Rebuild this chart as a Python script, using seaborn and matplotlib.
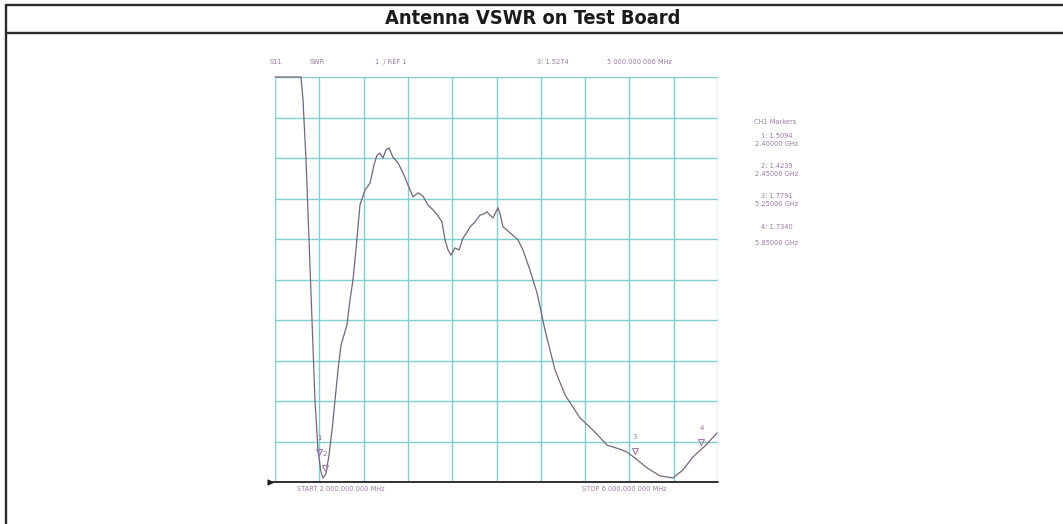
import numpy as np
import pandas as pd
import matplotlib
matplotlib.use("Agg")
import matplotlib.pyplot as plt
from matplotlib.lines import Line2D
import seaborn as sns

# ---- data ----
freq_ghz = [2.000, 2.235, 2.253, 2.280, 2.307, 2.334, 2.361, 2.388, 2.415, 2.433,
            2.460, 2.488, 2.515, 2.542, 2.569, 2.596, 2.623, 2.650, 2.677, 2.704,
            2.731, 2.767, 2.813, 2.858, 2.894, 2.921, 2.948, 2.975, 3.002, 3.029,
            3.065, 3.111, 3.156, 3.201, 3.246, 3.291, 3.336, 3.381, 3.427, 3.472,
            3.508, 3.535, 3.562, 3.589, 3.625, 3.661, 3.697, 3.734, 3.761, 3.806,
            3.851, 3.887, 3.914, 3.941, 3.968, 3.995, 4.014, 4.032, 4.059, 4.095,
            4.122, 4.158, 4.194, 4.239, 4.302, 4.366, 4.438, 4.528, 4.619, 4.754,
            4.890, 4.998, 5.115, 5.178, 5.251, 5.359, 5.477, 5.594, 5.684, 5.774,
            5.883, 5.991]
swr = [11.00, 11.00, 10.43, 8.95, 6.98, 5.00, 3.02, 1.79, 1.25, 1.10,
       1.20, 1.67, 2.28, 3.02, 3.77, 4.38, 4.63, 4.88, 5.49, 5.99,
       6.73, 7.84, 8.21, 8.38, 8.83, 9.07, 9.12, 9.00, 9.20, 9.25,
       9.02, 8.88, 8.63, 8.33, 8.04, 8.14, 8.06, 7.84, 7.72, 7.57,
       7.42, 6.98, 6.73, 6.60, 6.78, 6.73, 7.02, 7.17, 7.30, 7.42,
       7.59, 7.62, 7.67, 7.59, 7.52, 7.67, 7.77, 7.62, 7.30, 7.22,
       7.15, 7.07, 6.98, 6.73, 6.23, 5.67, 4.75, 3.77, 3.15, 2.58,
       2.23, 1.91, 1.81, 1.74, 1.59, 1.35, 1.15, 1.10, 1.30, 1.62,
       1.89, 2.21]

marker_ids = ["1", "2", "3", "4"]
marker_freq = [2.40, 2.45, 5.25, 5.85]
marker_swr_text = ["1.5094", "1.4239", "1.7791", "1.7340"]
marker_freq_text = ["2.40000 GHz", "2.45000 GHz", "5.25000 GHz", "5.85000 GHz"]

title = "Antenna VSWR on Test Board"
header_items = ["S11", "SWR", "1  / REF 1", "3: 1.5274", "5 000.000 000 MHz"]
start_label = "START 2 000.000 000 MHz"
stop_label = "STOP 6 000.000 000 MHz"

df = pd.DataFrame({"freq": freq_ghz, "swr": swr})

# ---- figure ----
sns.set_style("white")
plt.rcParams["font.family"] = ["DejaVu Sans"]

W, H = 1063, 524
fig = plt.figure(figsize=(W / 100, H / 100), dpi=100)
fig.patch.set_facecolor("white")

def fx(px):
    return px / W

def fy(py):
    return 1 - py / H

# table lines
line_col = "#2b2b2b"
fig.add_artist(Line2D([fx(6), 1], [fy(4.5), fy(4.5)], color=line_col, lw=1.7))
fig.add_artist(Line2D([fx(6), 1], [fy(33), fy(33)], color=line_col, lw=1.7))
fig.add_artist(Line2D([fx(6), fx(6)], [0, fy(4.5)], color=line_col, lw=1.7))

fig.text(fx(533), fy(19), title, ha="center", va="center", fontsize=14.3,
         fontweight="bold", fontstretch="condensed",
         family=["DejaVu Sans"], color="#1a1a1a")

# plot axes
left, right, top, bottom = 275, 718, 77, 482
ax = fig.add_axes([fx(left), fy(bottom), (right - left) / W, (bottom - top) / H])
ax.set_facecolor("white")

grid_col = "#7fd0cf"
trace_col = "#76657c"
text_col = "#9b7aa3"

sns.lineplot(data=df, x="freq", y="swr", ax=ax, color=trace_col, lw=0.9,
             estimator=None, sort=False, clip_on=False)

ax.set_xlim(2, 6)
ax.set_ylim(1, 11)
ax.set_xticks(np.linspace(2, 6, 11))
ax.set_yticks(np.arange(1, 12, 1))
ax.grid(True, color=grid_col, lw=1.0)
ax.set_axisbelow(True)
ax.tick_params(length=0, labelbottom=False, labelleft=False)
ax.set_xlabel("")
ax.set_ylabel("")
for s in ["left", "right", "top", "bottom"]:
    ax.spines[s].set_visible(False)
# black reference line along the bottom, slightly extending to the left
ax.plot([-0.012, 1.0], [0, 0], transform=ax.transAxes, color="#222222", lw=1.3,
        clip_on=False, zorder=5)
ax.plot([-0.012], [0], transform=ax.transAxes, marker=">", color="#222222",
        ms=3.5, clip_on=False, zorder=6)

# markers
mk_swr = np.interp(marker_freq, freq_ghz, swr)
for mid, f, s in zip(marker_ids, marker_freq, mk_swr):
    ax.plot([f], [s + 0.18], marker="v", ms=5, mfc="none", mec=text_col, mew=0.8,
            clip_on=False, zorder=7)
    ax.text(f, s + 0.45, mid, ha="center", va="bottom", fontsize=5, color=text_col)

# header text
hx = [270, 310, 375, 537, 607]
for x, t in zip(hx, header_items):
    fig.text(fx(x), fy(62), t, ha="left", va="center", fontsize=4.8, color=text_col)

fig.text(fx(297), fy(489), start_label, ha="left", va="center", fontsize=4.8, color=text_col)
fig.text(fx(582), fy(489), stop_label, ha="left", va="center", fontsize=4.8, color=text_col)

# marker table on the right
fig.text(fx(775), fy(122), "CH1 Markers", ha="center", va="center", fontsize=4.8, color=text_col)
ys = [(136, 144), (166, 174), (196, 204), (227, 243)]
for (y1, y2), mid, st, ft in zip(ys, marker_ids, marker_swr_text, marker_freq_text):
    fig.text(fx(777), fy(y1), f"{mid}: {st}", ha="center", va="center", fontsize=4.8, color=text_col)
    fig.text(fx(777), fy(y2), ft, ha="center", va="center", fontsize=4.8, color=text_col)

fig.savefig("out.png", dpi=100, facecolor="white")
